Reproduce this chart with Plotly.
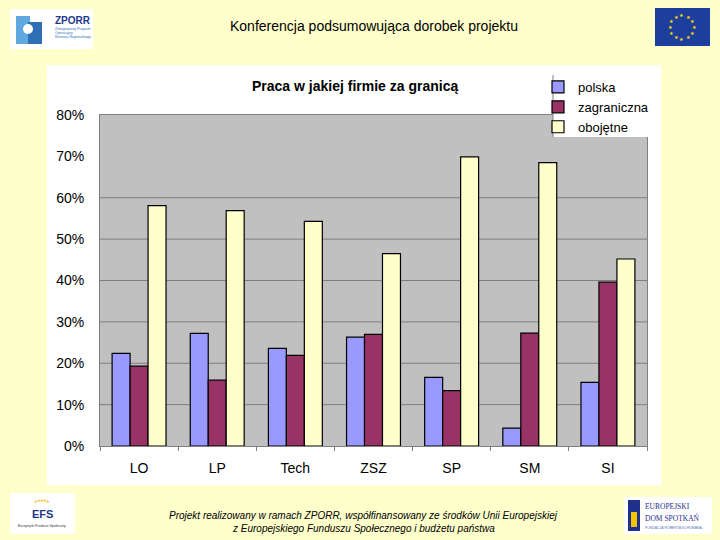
import numpy as np
import plotly.graph_objects as go

# ---- data ----
categories = ["LO", "LP", "Tech", "ZSZ", "SP", "SM", "SI"]
polska = [0.224, 0.272, 0.236, 0.263, 0.166, 0.043, 0.154]
zagraniczna = [0.193, 0.159, 0.219, 0.270, 0.134, 0.273, 0.396]
obojetne = [0.581, 0.569, 0.543, 0.465, 0.699, 0.685, 0.452]
series_names = ["polska", "zagraniczna", "obojętne"]
series_colors = ["#9999FF", "#993366", "#FFFFCC"]
grid_values = [0.1, 0.2, 0.3, 0.4, 0.5, 0.6]
y_ticks = [0, 0.1, 0.2, 0.3, 0.4, 0.5, 0.6, 0.7, 0.8]

chart_title = "Praca w jakiej firmie za granicą"
header = "Konferencja podsumowująca dorobek projektu"
footer1 = "Projekt realizowany w ramach ZPORR, współfinansowany ze środków Unii Europejskiej"
footer2 = "z Europejskiego Funduszu Społecznego i budżetu państwa"

# ---- layout geometry (pixels) ----
FW, FH = 720, 540
L, R, T, B = 100, 647, 115, 446
W, H = R - L, B - T


def px(x):
    return (x - L) / W


def py(y):
    return (B - y) / H


fig = go.Figure()
for name, vals, col in zip(series_names, [polska, zagraniczna, obojetne], series_colors):
    fig.add_trace(go.Bar(
        x=categories, y=vals, name=name,
        marker=dict(color=col, line=dict(color="black", width=1.2)),
    ))

shapes = []
# white chart box
shapes.append(dict(type="rect", xref="paper", yref="paper", layer="below",
                   x0=px(47), x1=px(661), y0=py(485), y1=py(65),
                   fillcolor="white", line=dict(width=0)))
# gray plot area
shapes.append(dict(type="rect", xref="paper", yref="paper", layer="below",
                   x0=0, x1=1, y0=0, y1=1,
                   fillcolor="#C0C0C0", line=dict(width=0)))
# gridlines
for g in grid_values:
    shapes.append(dict(type="line", xref="paper", yref="y", layer="below",
                       x0=0, x1=1, y0=g, y1=g,
                       line=dict(color="#7F7F7F", width=1)))
# legend box
shapes.append(dict(type="rect", xref="paper", yref="paper", layer="above",
                   x0=px(553), x1=px(648), y0=py(137), y1=py(75),
                   fillcolor="white", line=dict(width=0)))
shapes.append(dict(type="line", xref="paper", yref="paper", layer="above",
                   x0=px(553), x1=px(553), y0=py(137), y1=py(75),
                   line=dict(color="#808080", width=1)))

# logos (decorative approximations)
# ZPORR
shapes.append(dict(type="rect", xref="paper", yref="paper",
                   x0=px(10), x1=px(93), y0=py(49), y1=py(9),
                   fillcolor="white", line=dict(width=0)))
shapes.append(dict(type="rect", xref="paper", yref="paper",
                   x0=px(16), x1=px(30), y0=py(44), y1=py(16),
                   fillcolor="#5FA8E0", line=dict(width=0)))
shapes.append(dict(type="rect", xref="paper", yref="paper",
                   x0=px(28), x1=px(42), y0=py(44), y1=py(22),
                   fillcolor="#2F6FB5", line=dict(width=0)))
shapes.append(dict(type="circle", xref="paper", yref="paper",
                   x0=px(23), x1=px(33), y0=py(34), y1=py(24),
                   fillcolor="white", line=dict(width=0)))
# EU flag
shapes.append(dict(type="rect", xref="paper", yref="paper",
                   x0=px(655), x1=px(710), y0=py(46), y1=py(8),
                   fillcolor="#1C3F9E", line=dict(width=0)))
# EFS
shapes.append(dict(type="rect", xref="paper", yref="paper",
                   x0=px(10), x1=px(75), y0=py(534), y1=py(493),
                   fillcolor="white", line=dict(width=0)))
# Europejski Dom Spotkań
shapes.append(dict(type="rect", xref="paper", yref="paper",
                   x0=px(624), x1=px(712), y0=py(534), y1=py(497),
                   fillcolor="white", line=dict(width=0)))
shapes.append(dict(type="rect", xref="paper", yref="paper",
                   x0=px(628), x1=px(640), y0=py(531), y1=py(500),
                   fillcolor="#1E2F8C", line=dict(width=0)))
shapes.append(dict(type="rect", xref="paper", yref="paper",
                   x0=px(631), x1=px(637), y0=py(527), y1=py(512),
                   fillcolor="#F2C500", line=dict(width=0)))

annotations = []


def txt(x, y, text, size, color="black", bold=False, italic=False,
        family="Arial, Liberation Sans, sans-serif", xanchor="center"):
    t = text
    if bold:
        t = "<b>" + t + "</b>"
    if italic:
        t = "<i>" + t + "</i>"
    annotations.append(dict(xref="paper", yref="paper", x=px(x), y=py(y), text=t,
                            showarrow=False, xanchor=xanchor, yanchor="middle",
                            font=dict(size=size, color=color, family=family)))


txt(374, 26, header, 14)
txt(355, 86, chart_title, 14, bold=True)
txt(363, 515, footer1, 10, italic=True)
txt(363, 528, footer2, 10, italic=True)

# ZPORR logo text
txt(53, 20, "ZPORR", 10, color="#1E3A8A", bold=True, xanchor="left")
txt(53, 29, "Zintegrowany Program", 3.5, color="#2F6FB5", xanchor="left")
txt(53, 33, "Operacyjny", 3.5, color="#2F6FB5", xanchor="left")
txt(53, 37, "Rozwoju Regionalnego", 3.5, color="#2F6FB5", xanchor="left")

# EU stars
for a in np.linspace(0, 2 * np.pi, 12, endpoint=False):
    txt(682 + 12 * np.cos(a), 27 + 12 * np.sin(a), "★", 5, color="#FFDD00")

# EFS logo
for a in np.linspace(np.pi * 1.25, np.pi * 1.75, 5):
    txt(42 + 9 * np.cos(a), 506 + 5 * np.sin(a), "★", 3.5, color="#E8B800")
txt(42, 514, "EFS", 11, color="#1E3A8A", bold=True)
txt(42, 526, "Europejski Fundusz Społeczny", 3.5, color="#333333")

# Dom Spotkań logo
txt(643, 507, "EUROPEJSKI", 7.5, color="#1E2F8C", xanchor="left", family="Liberation Serif, serif")
txt(643, 518, "DOM SPOTKAŃ", 7.5, color="#1E2F8C", xanchor="left", family="Liberation Serif, serif")
txt(643, 528, "FUNDACJA ROBERTA SCHUMANA", 3.5, color="#5A7BC0", xanchor="left")

fig.update_layout(
    width=FW, height=FH,
    margin=dict(l=L, r=FW - R, t=T, b=FH - B, pad=0),
    paper_bgcolor="#FFFFCC",
    plot_bgcolor="rgba(0,0,0,0)",
    barmode="group",
    bargap=0.31,
    bargroupgap=0,
    font=dict(family="Arial, Liberation Sans, sans-serif", color="black"),
    shapes=shapes,
    annotations=annotations,
    legend=dict(
        x=px(538), y=py(72), xanchor="left", yanchor="top",
        bgcolor="rgba(0,0,0,0)", borderwidth=0,
        font=dict(size=13, family="Arial, Liberation Sans, sans-serif", color="black"),
        tracegroupgap=0, itemwidth=30,
    ),
    showlegend=True,
)
fig.update_xaxes(
    showgrid=False, showline=True, linecolor="#808080", linewidth=1, mirror=True,
    ticks="outside", tickson="boundaries", ticklen=4, tickcolor="#808080",
    tickfont=dict(size=14), ticklabelstandoff=9,
)
fig.update_yaxes(
    range=[0, 0.8], tickvals=y_ticks, tickformat=".0%",
    showgrid=False, showline=True, linecolor="#808080", linewidth=1, mirror=True,
    ticks="", zeroline=False, tickfont=dict(size=14), ticklabelstandoff=12,
)

fig.write_html("out.html", config={"displayModeBar": False},
               post_script="document.body.style.margin='0';")
